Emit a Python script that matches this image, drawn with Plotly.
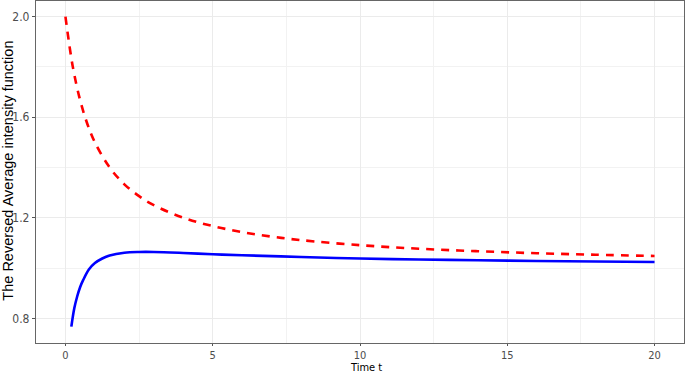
import plotly.graph_objects as go

# Red dashed curve
t_red = [0, 0.25, 0.5, 0.75, 1, 1.5, 2, 2.5, 3, 4, 5, 6, 7, 8, 10, 12, 14, 16, 18, 20]
v_red = [2.0, 1.80, 1.667, 1.571, 1.5, 1.40, 1.333, 1.286, 1.25, 1.20, 1.167, 1.143,
         1.125, 1.111, 1.091, 1.077, 1.067, 1.059, 1.053, 1.048]

# Blue solid curve
t_blue = [0.2, 0.3, 0.4, 0.5, 0.6, 0.8, 1.0, 1.25, 1.5, 2, 2.5, 3, 4, 5, 6, 8, 10, 12, 14, 16, 18, 20]
v_blue = [0.767, 0.84, 0.888, 0.925, 0.952, 0.995, 1.02, 1.038, 1.05, 1.061, 1.064, 1.064,
          1.06, 1.055, 1.051, 1.044, 1.038, 1.034, 1.031, 1.028, 1.026, 1.024]

x_ticks = [0, 5, 10, 15, 20]
x_tick_labels = ["0", "5", "10", "15", "20"]
y_ticks = [0.8, 1.2, 1.6, 2.0]
y_tick_labels = ["0.8", "1.2", "1.6", "2.0"]

fig = go.Figure()
fig.add_trace(go.Scatter(x=t_red, y=v_red, mode="lines", line_shape="spline",
                         line=dict(color="#ff0000", width=2.6, dash="8px,7px"),
                         showlegend=False, hoverinfo="skip"))
fig.add_trace(go.Scatter(x=t_blue, y=v_blue, mode="lines", line_shape="spline",
                         line=dict(color="#0000ff", width=2.6),
                         showlegend=False, hoverinfo="skip"))

narrow = "Liberation Sans Narrow, DejaVu Sans Condensed, Arial Narrow, sans-serif"
regular = "Liberation Sans, Arial, sans-serif"
fig.update_layout(
    width=685, height=373,
    margin=dict(l=36, r=1, t=1, b=30),
    paper_bgcolor="white", plot_bgcolor="white",
    font=dict(family=regular),
)
fig.update_xaxes(
    range=[-1, 21], tickvals=x_ticks, ticktext=x_tick_labels,
    showgrid=True, gridcolor="#ebebeb", gridwidth=1,
    minor=dict(tickvals=[2.5, 7.5, 12.5, 17.5], showgrid=True, gridcolor="#f2f2f2", gridwidth=0.6, ticks=""),
    showline=True, mirror=True, linecolor="#666666", linewidth=1.2,
    ticks="outside", ticklen=2, tickcolor="#555555",
    tickfont=dict(size=11, color="#4d4d4d", family=narrow),
    zeroline=False, automargin=False,
)
fig.update_yaxes(
    range=[0.702, 2.062], tickvals=y_ticks, ticktext=y_tick_labels,
    showgrid=True, gridcolor="#ebebeb", gridwidth=1,
    minor=dict(tickvals=[1.0, 1.4, 1.8], showgrid=True, gridcolor="#f2f2f2", gridwidth=0.6, ticks=""),
    showline=True, mirror=True, linecolor="#666666", linewidth=1.2,
    ticks="outside", ticklen=3, tickcolor="#555555",
    tickfont=dict(size=12, color="#4d4d4d", family=narrow),
    zeroline=False, automargin=False,
)
fig.add_annotation(text="Time t", xref="paper", yref="paper", x=0.509, y=-0.0716,
                   xanchor="center", yanchor="middle", showarrow=False,
                   font=dict(size=11, color="black", family=narrow))
fig.add_annotation(text="The Reversed Average intensity function", xref="paper", yref="paper",
                   x=-0.0432, y=0.504, xanchor="center", yanchor="middle", textangle=-90,
                   showarrow=False, font=dict(size=14.5, color="black", family=regular))

fig.write_html("out.html", config={"displayModeBar": False},
               post_script="document.body.style.margin='0';document.body.style.overflow='hidden';")
